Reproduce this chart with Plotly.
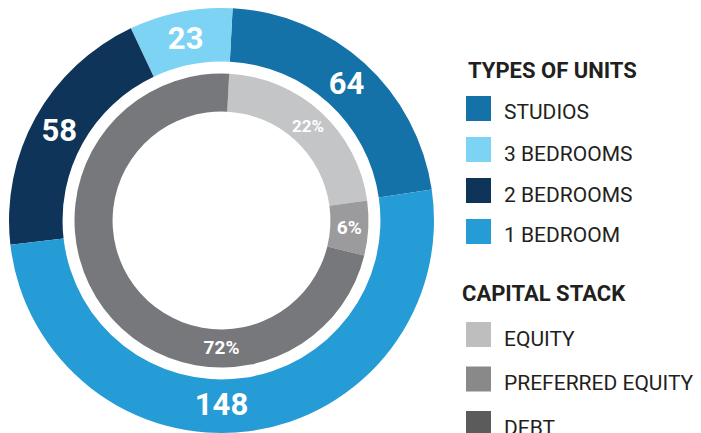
import plotly.graph_objects as go

# ---- data ----
unit_types = ["STUDIOS", "3 BEDROOMS", "2 BEDROOMS", "1 BEDROOM"]
unit_counts = [64, 23, 58, 148]
unit_colors = ["#1572a8", "#7dd3f3", "#0f3459", "#259cd6"]

capital_parts = ["EQUITY", "PREFERRED EQUITY", "DEBT"]
capital_shares = [22, 6, 72]
capital_colors = ["#c4c5c7", "#9b9b9e", "#77787c"]
capital_legend_colors = ["#bebebe", "#898989", "#5b5b5b"]

legend_titles = ["TYPES OF UNITS", "CAPITAL STACK"]

W, H = 701, 433
FONT = "Roboto"
TEXT_COLOR = "#231f20"


def px(x):
    return x / W


def py(y):
    return (H - y) / H


fig = go.Figure()

# outer ring: unit types
fig.add_trace(go.Pie(
    labels=unit_types,
    values=unit_counts,
    marker=dict(colors=unit_colors, line=dict(width=0)),
    hole=0.748,
    sort=False,
    direction="counterclockwise",
    rotation=3,
    textinfo="value",
    textposition="inside",
    insidetextorientation="horizontal",
    textfont=dict(family=FONT, size=31, color="white", weight="bold"),
    domain=dict(x=[px(9), px(434)], y=[0, 425 / H]),
    showlegend=False,
    hoverinfo="label+value",
))

# inner ring: capital stack
fig.add_trace(go.Pie(
    labels=capital_parts,
    values=capital_shares,
    marker=dict(colors=capital_colors, line=dict(width=0)),
    hole=0.741,
    sort=False,
    direction="clockwise",
    rotation=3,
    texttemplate="%{value}%",
    textposition="inside",
    insidetextorientation="horizontal",
    textfont=dict(family=FONT, size=19, color="white", weight="bold"),
    domain=dict(x=[px(221.5 - 147), px(221.5 + 147)],
                y=[(212.5 - 147) / H, (212.5 + 147) / H]),
    showlegend=False,
    hoverinfo="label+value",
))

# ---- custom legends ----
shapes = []
annotations = []
SQ_X0, SQ = 466, 25
TEXT_X = 502
TEXT_DROP = 4


def add_group(title, title_x, title_y, labels, colors, first_y, step):
    annotations.append(dict(
        x=px(title_x), y=py(title_y), xref="paper", yref="paper",
        xanchor="left", yanchor="middle", showarrow=False,
        text="<b>" + title + "</b>",
        font=dict(family=FONT, size=22, color=TEXT_COLOR),
    ))
    for i, (lab, col) in enumerate(zip(labels, colors)):
        cy = first_y + i * step
        shapes.append(dict(
            type="rect", xref="paper", yref="paper",
            x0=px(SQ_X0), x1=px(SQ_X0 + SQ),
            y0=py(cy + SQ / 2), y1=py(cy - SQ / 2),
            fillcolor=col, line=dict(width=0),
        ))
        annotations.append(dict(
            x=px(TEXT_X), y=py(cy + TEXT_DROP), xref="paper", yref="paper",
            xanchor="left", yanchor="middle", showarrow=False,
            text=lab,
            font=dict(family=FONT, size=21, color=TEXT_COLOR),
        ))


add_group(legend_titles[0], 466, 70.5, unit_types, unit_colors, 108.5, 41)
add_group(legend_titles[1], 460, 293.5, capital_parts, capital_legend_colors, 334.5, 44.5)

fig.update_layout(
    width=W, height=H,
    margin=dict(l=0, r=0, t=0, b=0),
    paper_bgcolor="white",
    plot_bgcolor="white",
    shapes=shapes,
    annotations=annotations,
    showlegend=False,
)

fig.write_html("out.html", config={"displayModeBar": False},
               post_script="document.body.style.margin='0';")
